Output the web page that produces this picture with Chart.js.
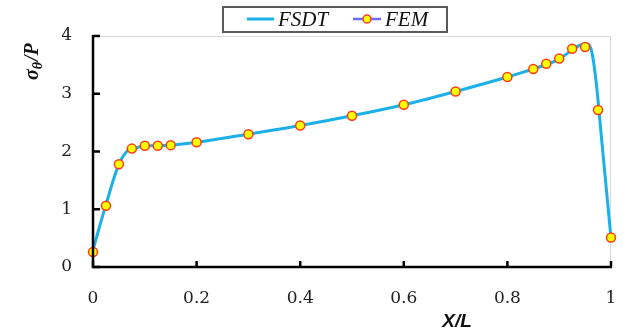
<!DOCTYPE html>
<html>
<head>
<meta charset="utf-8">
<script src="https://cdn.jsdelivr.net/npm/chart.js@4/dist/chart.umd.min.js"></script>
<style>
html,body{margin:0;padding:0;background:#fff;}
#wrap{position:relative;width:639px;height:334px;}
</style>
</head>
<body>
<div id="wrap"><canvas id="c" width="639" height="334"></canvas></div>
<script>
// ---- data ----
const fsdtX = [0, 0.025, 0.05, 0.065, 0.075, 0.1, 0.15, 0.2, 0.3, 0.4, 0.5, 0.6, 0.7, 0.8, 0.85, 0.9, 0.925, 0.94, 0.955, 0.963, 0.972, 0.982, 1.0];
const fsdtY = [0.30, 1.08, 1.78, 2.00, 2.05, 2.09, 2.11, 2.16, 2.30, 2.45, 2.62, 2.81, 3.04, 3.29, 3.43, 3.60, 3.76, 3.84, 3.86, 3.72, 3.15, 2.20, 0.50];
const femX = [0, 0.025, 0.05, 0.075, 0.1, 0.125, 0.15, 0.2, 0.3, 0.4, 0.5, 0.6, 0.7, 0.8, 0.85, 0.875, 0.9, 0.925, 0.95, 0.975, 1.0];
const femY = [0.26, 1.06, 1.78, 2.05, 2.10, 2.10, 2.11, 2.16, 2.30, 2.45, 2.62, 2.81, 3.04, 3.29, 3.43, 3.52, 3.61, 3.78, 3.81, 2.72, 0.51];
const xTicks = [0, 0.2, 0.4, 0.6, 0.8, 1];
const yTicks = [0, 1, 2, 3, 4];
const seriesNames = ['FSDT', 'FEM'];
const xTitle = 'X/L';

const lineBlue = '#1cb0e8';
const femLine = '#6b6bff';

const toPts = (xs, ys) => xs.map((x, i) => ({x: x, y: ys[i]}));

const customDraw = {
  id: 'customDraw',
  beforeDatasetsDraw(chart) {
    const {ctx, chartArea: a} = chart;
    ctx.save();
    ctx.strokeStyle = '#d9d9d9';
    ctx.lineWidth = 1;
    ctx.strokeRect(a.left + 0.5, a.top + 0.5, a.right - a.left - 1, a.bottom - a.top);
    ctx.restore();
  },
  afterDraw(chart) {
    const {ctx, chartArea: a, scales} = chart;
    ctx.save();
    // axes
    ctx.strokeStyle = '#000';
    ctx.lineWidth = 2.5;
    ctx.beginPath();
    ctx.moveTo(a.left, a.top - 1);
    ctx.lineTo(a.left, a.bottom);
    ctx.lineTo(a.right + 1, a.bottom);
    ctx.stroke();
    // inward ticks
    ctx.lineWidth = 2.5;
    xTicks.forEach(v => {
      const px = scales.x.getPixelForValue(v);
      ctx.beginPath(); ctx.moveTo(px, a.bottom); ctx.lineTo(px, a.bottom - 6); ctx.stroke();
    });
    yTicks.forEach(v => {
      const py = scales.y.getPixelForValue(v);
      ctx.beginPath(); ctx.moveTo(a.left, py); ctx.lineTo(a.left + 7, py); ctx.stroke();
    });
    // legend
    ctx.strokeStyle = '#5a5a5a';
    ctx.lineWidth = 2;
    ctx.strokeRect(223, 7, 224, 25);
    ctx.strokeStyle = lineBlue; ctx.lineWidth = 3;
    ctx.beginPath(); ctx.moveTo(247, 19); ctx.lineTo(274, 19); ctx.stroke();
    ctx.fillStyle = '#111';
    ctx.font = 'italic 21px "Liberation Serif"';
    ctx.textBaseline = 'alphabetic';
    ctx.textAlign = 'left';
    ctx.fillText(seriesNames[0], 278, 26);
    ctx.strokeStyle = femLine; ctx.lineWidth = 2.5;
    ctx.beginPath(); ctx.moveTo(353, 19); ctx.lineTo(381, 19); ctx.stroke();
    ctx.beginPath(); ctx.arc(367, 19, 4, 0, Math.PI * 2);
    ctx.fillStyle = '#ffff00'; ctx.fill();
    ctx.strokeStyle = '#ff3a1a'; ctx.lineWidth = 1.5; ctx.stroke();
    ctx.fillStyle = '#111';
    ctx.fillText(seriesNames[1], 385, 26);
    // x title
    ctx.font = 'bold italic 19px "Liberation Sans"';
    ctx.textAlign = 'center';
    ctx.fillText(xTitle, 457, 327);
    // y title sigma_theta / P
    ctx.translate(38, 80);
    ctx.rotate(-Math.PI / 2);
    ctx.textAlign = 'left';
    ctx.font = 'bold italic 20px "Liberation Serif"';
    ctx.fillText('σ', 0, 0);
    let w = ctx.measureText('σ').width;
    ctx.font = 'bold italic 14px "Liberation Serif"';
    ctx.fillText('θ', w, 4);
    w += ctx.measureText('θ').width + 1;
    ctx.font = 'bold italic 20px "Liberation Serif"';
    ctx.fillText('/P', w, 0);
    ctx.restore();
  }
};

new Chart(document.getElementById('c'), {
  type: 'line',
  data: {
    datasets: [
      {
        label: seriesNames[1],
        data: toPts(femX, femY),
        showLine: false,
        pointRadius: 4.5,
        pointBackgroundColor: '#ffff00',
        pointBorderColor: '#ff3a1a',
        pointBorderWidth: 1.5,
        borderColor: femLine,
        order: 0,
        clip: false
      },
      {
        label: seriesNames[0],
        data: toPts(fsdtX, fsdtY),
        borderColor: lineBlue,
        borderWidth: 3,
        pointRadius: 0,
        cubicInterpolationMode: 'monotone',
        fill: false,
        order: 1,
        clip: false
      }
    ]
  },
  options: {
    responsive: false,
    animation: false,
    layout: {padding: {top: 36, right: 28, left: 0, bottom: 0}},
    plugins: {legend: {display: false}, tooltip: {enabled: false}},
    scales: {
      x: {
        type: 'linear', min: 0, max: 1,
        afterFit: s => { s.height = 67; },
        afterBuildTicks: s => { s.ticks = xTicks.map(v => ({value: v})); },
        grid: {display: false, drawTicks: false},
        border: {display: false},
        ticks: {
          padding: 21,
          color: '#222',
          font: {family: '"DejaVu Serif"', size: 17},
          callback: v => String(v)
        }
      },
      y: {
        type: 'linear', min: 0, max: 4,
        afterFit: s => { s.width = 93; },
        afterBuildTicks: s => { s.ticks = yTicks.map(v => ({value: v})); },
        grid: {display: false, drawTicks: false},
        border: {display: false},
        ticks: {
          padding: 21,
          color: '#222',
          font: {family: '"DejaVu Serif"', size: 17},
          callback: v => String(v)
        }
      }
    }
  },
  plugins: [customDraw]
});
</script>
</body>
</html>
